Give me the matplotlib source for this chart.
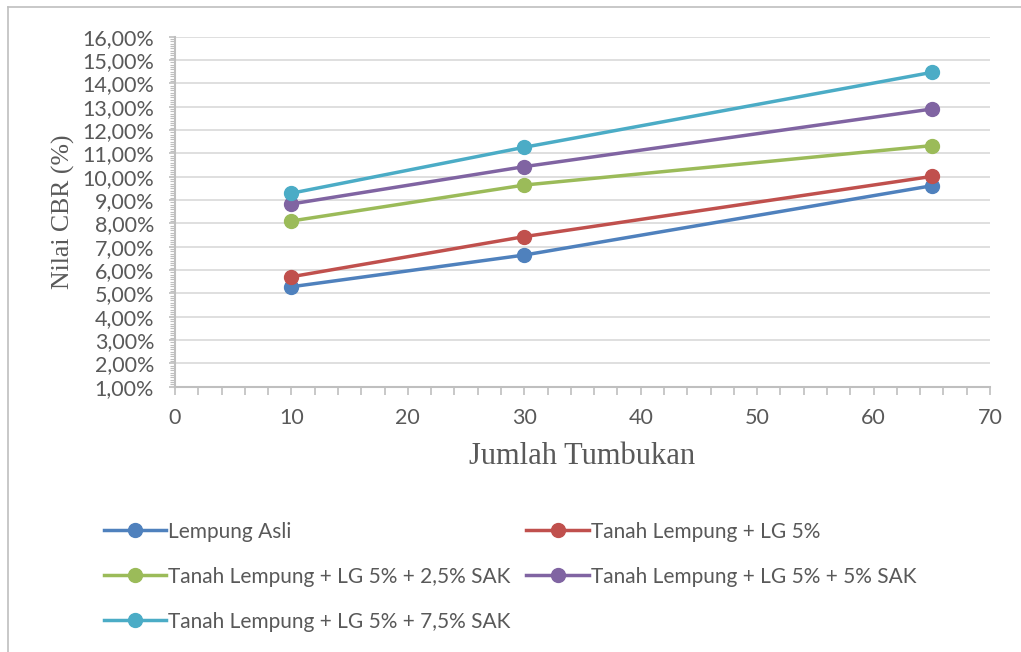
import matplotlib.pyplot as plt
from matplotlib.ticker import MultipleLocator, FuncFormatter
from matplotlib.lines import Line2D

# Jumlah tumbukan dan nilai CBR (%) tiap campuran
tumbukan = [10, 30, 65]
lempung_asli = [5.28, 6.64, 9.61]
lg5 = [5.71, 7.43, 10.01]
lg5_sak25 = [8.10, 9.64, 11.33]
lg5_sak5 = [8.83, 10.43, 12.90]
lg5_sak75 = [9.29, 11.26, 14.47]

labels = ["Lempung Asli",
          "Tanah Lempung + LG 5%",
          "Tanah Lempung + LG 5% + 2,5% SAK",
          "Tanah Lempung + LG 5% + 5% SAK",
          "Tanah Lempung + LG 5% + 7,5% SAK"]
colors = ["#4F81BD", "#C0504D", "#9BBB59", "#8064A2", "#4BACC6"]
series = [lempung_asli, lg5, lg5_sak25, lg5_sak5, lg5_sak75]

tick_font = "Lato"
title_font = "Liberation Serif"
gray = "#595959"
axis_gray = "#BFBFBF"

fig = plt.figure(figsize=(10.21, 6.52), dpi=100)
ax = fig.add_axes([175 / 1021, 1 - 386.6 / 652, (990 - 175) / 1021, (386.6 - 36.7) / 652])

for vals, lab, col in zip(series, labels, colors):
    ax.plot(tumbukan, vals, color=col, lw=2.5, marker="o", ms=10, label=lab,
            solid_capstyle="round", zorder=3)

ax.set_xlim(0, 70)
ax.set_ylim(1, 16)
ax.xaxis.set_major_locator(MultipleLocator(10))
ax.xaxis.set_minor_locator(MultipleLocator(2))
ax.yaxis.set_major_locator(MultipleLocator(1))
ax.yaxis.set_minor_locator(MultipleLocator(0.1))
ax.yaxis.set_major_formatter(FuncFormatter(lambda v, p: f"{v:.2f}%".replace(".", ",")))

ax.grid(axis="y", which="major", color="#D9D9D9", lw=1.2, zorder=0)
for s in ["top", "right"]:
    ax.spines[s].set_visible(False)
for s in ["left", "bottom"]:
    ax.spines[s].set_color(axis_gray)
    ax.spines[s].set_linewidth(1.5)

ax.tick_params(axis="both", which="both", color=axis_gray, direction="out")
ax.tick_params(axis="y", which="major", length=4, width=1.2, pad=11)
ax.tick_params(axis="y", which="minor", length=3.5, width=0.8)
ax.tick_params(axis="x", which="both", length=5.5, width=1.2, pad=10)
for lbl in ax.get_xticklabels() + ax.get_yticklabels():
    lbl.set_fontfamily(tick_font)
    lbl.set_fontsize(15.5)
    lbl.set_color(gray)

ax.set_xlabel("Jumlah Tumbukan", fontfamily=title_font, fontsize=22, color=gray, labelpad=10)
ax.set_ylabel("Nilai CBR (%)", fontfamily=title_font, fontsize=18.5, color=gray, labelpad=5)

# legenda dua kolom di bawah grafik, diisi per baris
handles = [Line2D([], [], color=c, lw=2.5, marker="o", ms=10) for c in colors]
order = [0, 2, 4, 1, 3]
leg = fig.legend([handles[i] for i in order], [labels[i] for i in order],
                 loc="upper left", bbox_to_anchor=(85 / 1021, 1 - 503 / 652),
                 ncol=2, frameon=False, handlelength=3.0, handletextpad=0.1,
                 columnspacing=0.75, labelspacing=1.2,
                 prop={"family": tick_font, "size": 15})
for t in leg.get_texts():
    t.set_color(gray)

# garis bingkai kiri dan atas
fig.add_artist(Line2D([8 / 1021, 8 / 1021], [0, 1 - 7 / 652], color="#BFBFBF", lw=1.2))
fig.add_artist(Line2D([8 / 1021, 1], [1 - 7 / 652, 1 - 7 / 652], color="#BFBFBF", lw=1.2))

fig.savefig("out.png", dpi=100)
